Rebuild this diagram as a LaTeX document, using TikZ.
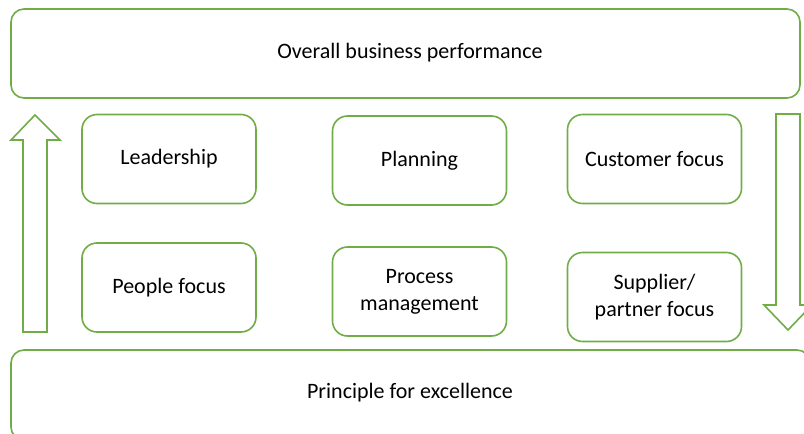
\documentclass[tikz,border=0pt]{standalone}
\usepackage{fontspec}
\setmainfont{Carlito}
\usepackage{tikz}
\usetikzlibrary{positioning}

\definecolor{frame}{RGB}{112,173,71}

\tikzset{
  box/.style={draw=frame, line width=1.6pt, rounded corners=15pt, fill=white,
    minimum width=174pt, minimum height=89pt, align=center, inner sep=0pt},
  band/.style={draw=frame, line width=1.6pt, rounded corners=13pt},
  flow/.style={draw=frame, line width=1.6pt, line join=miter}
}

\begin{document}
\begin{tikzpicture}[x=1pt, y=-1pt, font=\fontsize{22}{27}\selectfont]
\useasboundingbox (0,0) rectangle (804,434);
\clip (0,0) rectangle (804,434);

\draw[band] (11,9) rectangle (800,98);
\node (perf) at (410,53) {Overall business performance};

\draw[band] (11,350) rectangle (810,440);
\node (excel) at (410,393) {Principle for excellence};

\node[box] (lead) at (169,159) {Leadership};
\node[box] (plan) at (419.5,160.5) {Planning};
\node[box] (cust) at (654.5,159) {Customer focus};
\node[box] (people) at (169,287.5) {People focus};
\node[box] (proc) at (419.5,291.5) {Process\\management};
\node[box] (supp) at (654.5,297) {Supplier/\\partner focus};

\draw[flow] (23,332) -- (23,140) -- (11,140) -- (35,115) -- (60,140)
  -- (47,140) -- (47,332) -- cycle;
\draw[flow] (776,114) -- (800,114) -- (800,305) -- (812,305) -- (788,330)
  -- (764,305) -- (776,305) -- cycle;
\end{tikzpicture}
\end{document}
